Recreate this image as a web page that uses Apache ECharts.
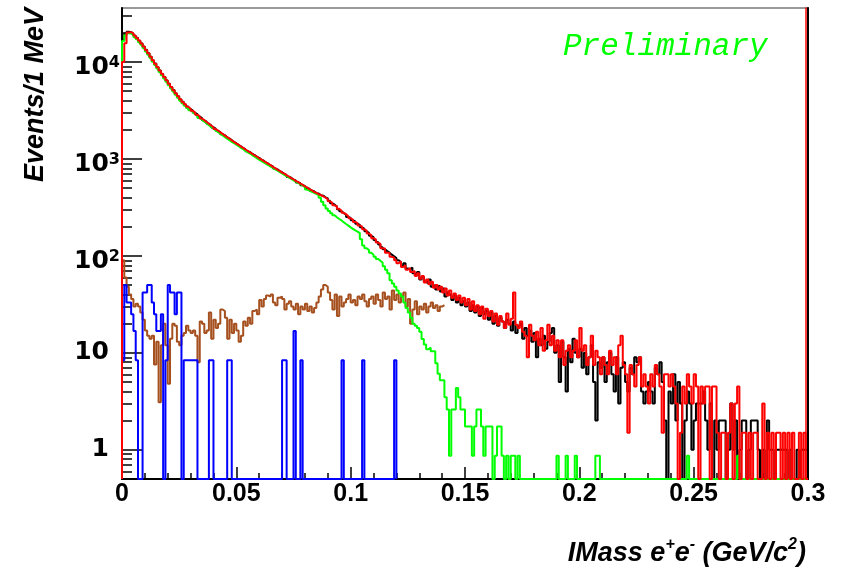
<!DOCTYPE html>
<html>
<head>
<meta charset="utf-8">
<title>IMass e+e-</title>
<script src="https://cdn.jsdelivr.net/npm/echarts@6/dist/echarts.min.js"></script>
<style>
  html, body { margin: 0; padding: 0; background: #fff; }
  #chart { width: 844px; height: 571px; }
</style>
</head>
<body>
<div id="chart"></div>
<script>
  // 1 MeV bins, 0 - 0.3 GeV/c^2
  var binWidth = 0.001;
  var yMin = 0.5, yMax = 36000;
  var fontFamily = '"Liberation Sans", Arial, Helvetica, sans-serif';
  var wideFont = '"DejaVu Sans", "Liberation Sans", Arial, sans-serif';

  // data (black)
  var dataCounts = [
    17050,19480,20530,20260,19640,18660,17730,16570,15540,14370,
    13320,12280,11330,10370,9620,8830,8170,7530,7010,6430,
    5970,5480,5140,4730,4430,4100,3890,3650,3470,3270,
    3150,2990,2880,2730,2630,2500,2420,2300,2220,2110,
    2050,1950,1890,1800,1750,1670,1620,1560,1490,1450,
    1390,1350,1290,1260,1200,1175,1125,1095,1050,1025,
    980,958,915,893,855,836,797,780,745,730,
    698,684,652,640,611,600,572,562,535,527,
    501,494,470,463,443,440,421,418,402,392,
    371,349,337,322,303,288,276,266,252,246,
    233,227,215,209,197,190,179,173,161,156,
    146,139,131,123,117,112,108,103,99,95,
    90,86,79,84,74,73,76,66,63,68,
    57,61,54,52,57,48,50,45,49,43,
    46,38,42,40,35,39,33,37,31,34,
    30,33,27,31,26,30,24,29,25,27,
    22,26,20,24,19,23,21,18,22,20,
    17,21,16,19,20,14,18,15,17,13,
    16,9,14,12,15,11,13,16,18,10,
    12,5,13,9,4,11,8,14,10,9,
    11,7,10,6,9,12,5,2,8,7,
    9,5,8,10,6,4,9,3,7,8,
    5,4,7,6,9,8,9,4,3,4,
    5,4,3,7,6,8,5,2,0,4,
    3,6,2,5,3,0,2,4,3,1,
    2,3,3,3,4,2,1,3,0,2,
    1,2,2,2,0,1,3,1,2,0,
    1,2,2,0,1,2,2,2,1,0,
    1,0,2,1,1,0,1,1,1,1,
    1,0,1,0,0,1,0,1,1,1
  ];

  // MC sum (red)
  var mcTotal = [
    10000,15600,20100,20300,19700,18700,17650,16620,15500,14400,
    13300,12300,11320,10420,9600,8860,8150,7550,6990,6460,
    5950,5500,5110,4760,4420,4130,3870,3670,3460,3300,
    3130,3000,2860,2750,2610,2510,2400,2310,2210,2130,
    2030,1960,1880,1810,1740,1680,1620,1550,1500,1440,
    1400,1340,1300,1250,1210,1165,1130,1085,1055,1015,
    985,950,922,888,862,828,804,772,752,722,
    704,678,660,632,618,592,580,556,542,520,
    508,486,476,456,448,432,424,412,398,384,
    366,352,332,324,306,292,278,268,256,244,
    236,224,218,206,200,188,182,170,164,152,
    148,137,133,120,119,108,107,98,96,90,
    84,88,77,80,72,75,68,70,62,66,
    58,62,53,57,51,54,47,50,45,48,
    42,46,39,44,37,41,35,39,33,37,
    31,36,28,34,27,31,25,30,22.5,28.5,
    24,27,21,25.5,19.5,24,21,18,25.5,19.5,
    22.5,42,19.5,18,21,16.5,15,9,19.5,15,
    13.5,16.5,12,18,10.5,13.5,19.5,12,15,10.5,
    13.5,9,13.5,7.5,10.5,12,9,10.5,13.5,9,
    18,10.5,12,7.5,9,15,7.5,10.5,9,6,
    9,7.5,6,10.5,7.5,9,6,12,15,7.5,
    6,1.5,7.5,6,4.5,7.5,9,4.5,6,4.5,
    3,6,4.5,7.5,6,4.5,1.5,6,6,4.5,
    6,4.5,3,0,1.5,4.5,3,6,4.5,3,
    6,4.5,0,4.5,3,4.5,4.5,0,4.5,4.5,
    1.5,0,1.5,1.5,0,1.5,3,0,3,4.5,
    0,1.5,1.5,0,1.5,0,1.5,1.5,0,0,
    3,0,1.5,0,1.5,0,1.5,1.5,0,1.5,
    0,1.5,0,1.5,0,0,1.5,0,1.5,0
  ];

  // conversion component (green)
  var mcGreen = [
    16400,18800,19800,19600,18950,18000,17100,16000,15000,13900,
    12850,11850,10950,10050,9280,8550,7890,7290,6760,6240,
    5760,5310,4950,4590,4270,3980,3750,3540,3350,3170,
    3030,2890,2770,2640,2530,2420,2330,2230,2140,2050,
    1970,1890,1820,1750,1680,1620,1560,1500,1450,1400,
    1350,1300,1260,1210,1170,1130,1090,1055,1015,985,
    950,920,890,860,832,806,780,756,732,708,
    686,664,642,622,602,584,566,548,530,514,
    483,470,458,447,436,422,398,362,332,308,
    290,275,262,250,240,232,222,213,205,197,
    190,183,178,172,148,128,120,115,108,103,
    98,93,89,85,78,72,66,56,52,48,
    44,41,38,33,29,26,23,20,19,18,
    16.5,13.9,12.2,10.9,11.3,10.4,10.4,7.83,6.09,5.22,
    5.22,3.48,2.61,0.87,2.61,2.61,4.35,3.48,2.61,2.61,
    1.74,1.74,1.74,0.87,1.74,2.61,2.61,1.74,0.87,1.74,
    1.74,1.74,0,0.87,1.74,1.74,0.87,0,0.87,0,
    0.87,0.87,0,0.87,0,0,0,0,0,0,
    0,0,0,0,0,0,0,0,0,0,
    0.87,0,0,0,0.87,0,0,0,0.87,0,
    0,0,0,0,0,0,0,0.87,0.87,0,
    0,0,0,0,0,0,0,0,0,0,
    0,0,0,0,0,0,0,0,0,0,
    0,0,0,0,0,0,0,0,0,0,
    0,0,0,0,0,0,0,0.87,0,0,
    0,0,0,0,0,0,0,0,0,0,
    0,0,0,0,0,0,0,0,0,0.87,
    0,0,0,0,0,0,0,0,0,0,
    0,0,0,0,0,0,0,0,0,0,
    0,0,0,0,0,0,0,0,0,0
  ];

  // background component (brown), hidden under the sum above 0.14
  var mcBrown = [
    90,60,48,40,36,30,32,30,26,22,
    17,15,14,15,7.6,13,3.1,12,20,12,
    4.8,14,20,19,13,12,15,16,19,17,
    16,17,15,8,21,20,16,17,26,14,
    22,18,20,28,27,23,14,22,16,20,
    17,13,15,21,19,23,20,27,28,25,
    35,30,36,39,38,40,33,31,37,38,
    36,28,32,34,30,28,32,25,30,28,
    32,27,30,26,29,33,38,45,50,48,
    42,35,28,40,24,38,30,33,36,40,
    33,35,31,38,36,40,34,30,36,38,
    32,40,35,30,42,36,38,28,44,35,
    40,33,38,42,30,36,20,28,34,25,
    30,28,32,26,30,33,29,31,27,30,
    31
  ];

  // blue component
  var mcBlue = [
    8.4,50,33,33,25,16.8,8.4,0,0,42,
    42,50,50,33,25,16.8,16.8,25,0,8.4,
    50,42,42,25,42,42,0,8.4,8.4,8.4,
    8.4,8.4,8.4,0,0,0,0,0,8.4,8.4,
    0,0,0,0,0,0,8.4,8.4,0,0,
    0,0,0,0,0,0,0,0,0,0,
    0,0,0,0,0,0,0,0,0,0,
    8.4,8.4,0,0,0,16.8,0,0,8.4,0,
    0,0,0,0,0,0,0,0,0,0,
    0,0,0,0,0,0,8.4,0,0,0,
    0,0,0,0,0,8.4,0,0,0,0,
    0,0,0,0,0,0,0,0,0,8.4
  ];

  var yMinorTicks = [
    0.6,0.7,0.8,0.9,
    2,3,4,5,6,7,8,9,
    20,30,40,50,60,70,80,90,
    200,300,400,500,600,700,800,900,
    2000,3000,4000,5000,6000,7000,8000,9000,
    20000,30000
  ];

  // histogram outline: vertical edges down to the frame like ROOT's "hist" option
  function histLine(values, close) {
    var pts = [[0, yMin]];
    for (var i = 0; i < values.length; i++) {
      var v = values[i] > yMin ? values[i] : yMin;
      pts.push([i * binWidth, v], [(i + 1) * binWidth, v]);
    }
    if (close) pts.push([values.length * binWidth, yMin]);
    return pts;
  }

  function histSeries(name, values, color, close) {
    return {
      name: name,
      type: 'line',
      data: histLine(values, close),
      symbol: 'none',
      showSymbol: false,
      silent: true,
      lineStyle: { color: color, width: 2 },
      itemStyle: { color: color }
    };
  }

  var chart = echarts.init(document.getElementById('chart'));

  chart.setOption({
    animation: false,
    backgroundColor: '#fff',
    grid: {
      left: 122, right: 36, top: 8, bottom: 92,
      show: true, borderColor: '#999', borderWidth: 2
    },
    xAxis: {
      type: 'value',
      min: 0, max: 0.3, interval: 0.05,
      axisLine: { show: true, onZero: false, lineStyle: { color: '#000', width: 2 } },
      axisTick: { show: true, inside: true, length: 12, lineStyle: { color: '#000', width: 1.5 } },
      minorTick: { show: true, splitNumber: 5, length: 6, lineStyle: { color: '#000', width: 1.5 } },
      axisLabel: {
        color: '#000', fontSize: 25, fontWeight: 'bold', fontFamily: fontFamily, margin: 3
      },
      splitLine: { show: false }
    },
    yAxis: [{
      type: 'log',
      logBase: 10,
      min: yMin, max: yMax,
      position: 'left',
      axisLine: { show: true, onZero: false, lineStyle: { color: '#000', width: 2 } },
      axisTick: { show: true, inside: true, length: 20, lineStyle: { color: '#000', width: 1.5 } },
      axisLabel: {
        showMinLabel: false, showMaxLabel: false,
        margin: 2,
        formatter: function (v) {
          var k = Math.round(Math.log10(v));
          if (k === 0) return '{n|1}';
          if (k === 1) return '{n|10}';
          return '{b|10}{s|' + k + '}';
        },
        rich: {
          n: { fontSize: 25, fontWeight: 'bold', fontFamily: wideFont, color: '#000', padding: [0, 11, 0, 0] },
          b: { fontSize: 25, fontWeight: 'bold', fontFamily: wideFont, color: '#000', padding: [12, 0, 0, 0], verticalAlign: 'bottom' },
          s: { fontSize: 16, fontWeight: 'bold', fontFamily: wideFont, color: '#000', lineHeight: 16, padding: [11, 0, 0, 0], verticalAlign: 'top' }
        }
      },
      splitLine: { show: false }
    }, {
      type: 'log',
      logBase: 10,
      min: yMin, max: yMax,
      position: 'left',
      axisLine: { show: false },
      axisTick: { show: true, inside: true, length: 10, customValues: yMinorTicks, lineStyle: { color: '#000', width: 1.5 } },
      axisLabel: { show: false },
      splitLine: { show: false }
    }, {
      type: 'value',
      min: 0, max: 1,
      position: 'right',
      axisLine: { show: true, onZero: false, lineStyle: { color: '#000', width: 2 } },
      axisTick: { show: false },
      axisLabel: { show: false },
      splitLine: { show: false }
    }, {
      type: 'value',
      min: 0, max: 1,
      position: 'right',
      offset: -2,
      axisLine: { show: true, onZero: false, lineStyle: { color: '#ff0000', width: 1.5 } },
      axisTick: { show: false },
      axisLabel: { show: false },
      splitLine: { show: false }
    }],
    series: [
      histSeries('background', mcBrown, '#a5501e', false),
      histSeries('blue', mcBlue, '#0000ff', true),
      histSeries('data', dataCounts, '#000000', true),
      histSeries('conversion', mcGreen, '#00ff00', true),
      histSeries('sum', mcTotal, '#ff0000', true)
    ],
    graphic: [{
      type: 'text',
      x: 36, y: 95,
      rotation: Math.PI / 2,
      style: {
        text: 'Events/1 MeV',
        fontSize: 27, fontWeight: 'bold', fontStyle: 'italic', fontFamily: fontFamily,
        fill: '#000', align: 'center', verticalAlign: 'middle'
      }
    }, {
      type: 'text',
      x: 806, y: 550,
      style: {
        text: '{a|IMass e}{s|+}{a|e}{s|-}{a| (GeV/c}{s|2}{a|)}',
        align: 'right', verticalAlign: 'middle',
        rich: {
          a: { fontSize: 27, fontWeight: 'bold', fontStyle: 'italic', fontFamily: fontFamily, fill: '#000', padding: [8, 0, 0, 0], verticalAlign: 'bottom' },
          s: { fontSize: 16, fontWeight: 'bold', fontStyle: 'italic', fontFamily: fontFamily, fill: '#000', lineHeight: 16, padding: [4, 0, 0, 0], verticalAlign: 'top' }
        }
      }
    }, {
      type: 'text',
      x: 563, y: 47,
      style: {
        text: 'Preliminary',
        fontSize: 31, fontStyle: 'italic', fontFamily: '"Liberation Mono", "DejaVu Sans Mono", monospace',
        fill: '#00ff00', align: 'left', verticalAlign: 'middle'
      }
    }]
  });
</script>
</body>
</html>
